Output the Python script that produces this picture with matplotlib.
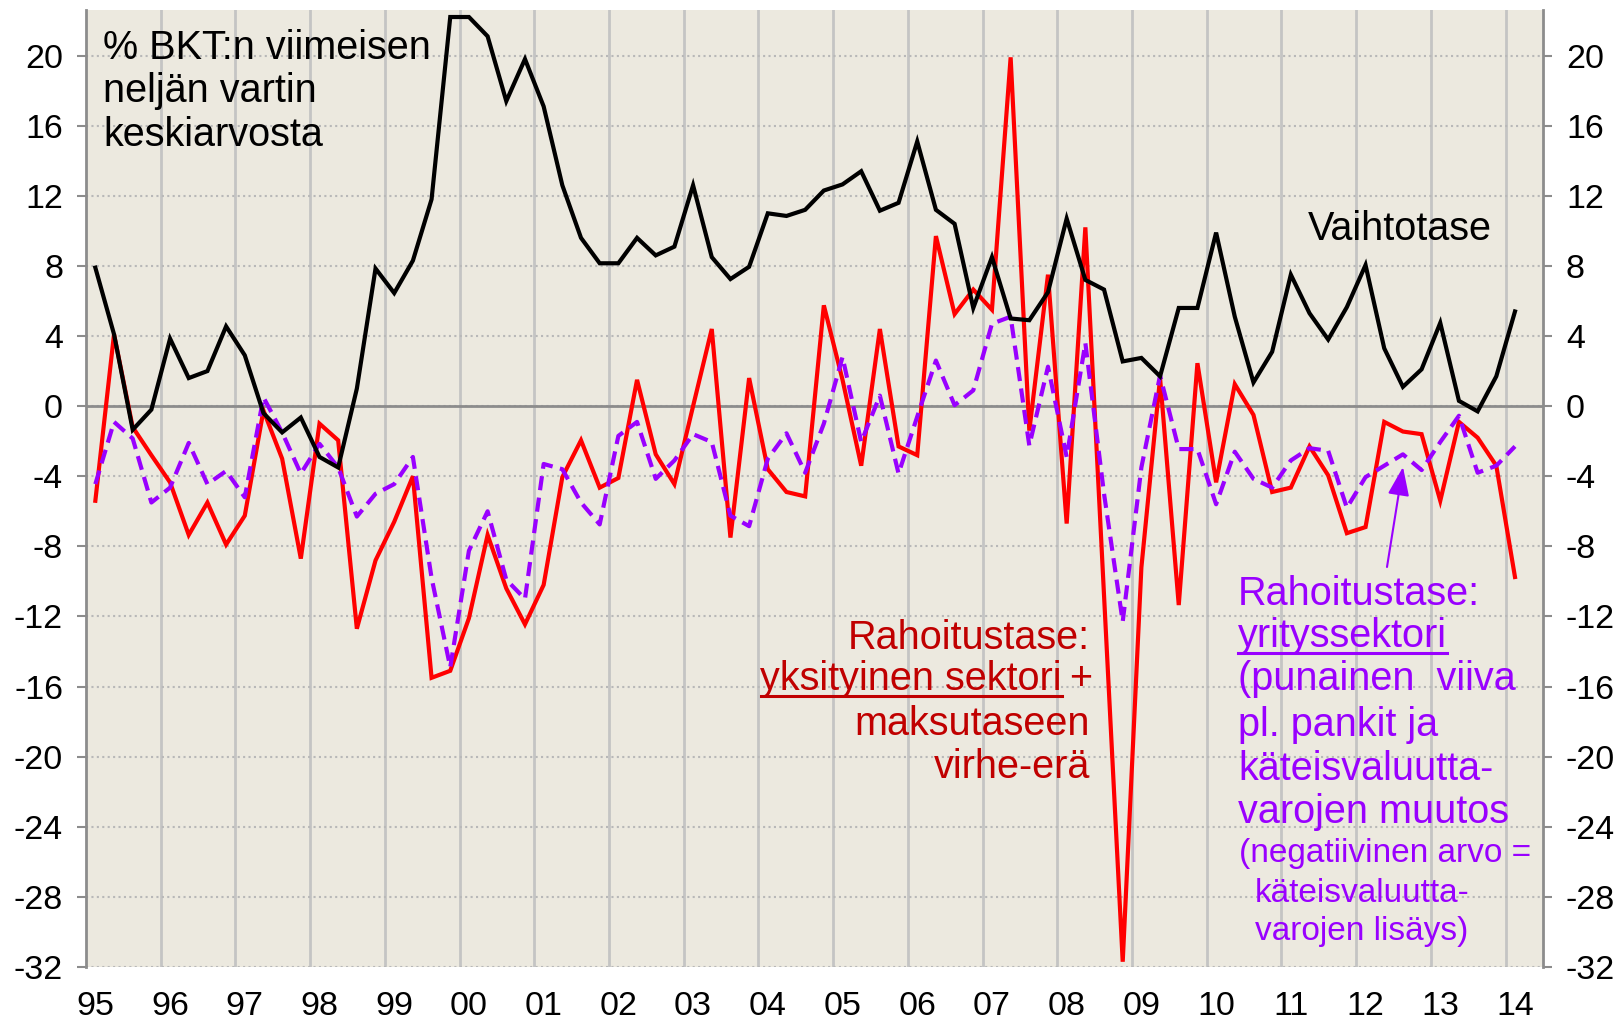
import matplotlib
matplotlib.use('Agg')
import matplotlib.pyplot as plt
from matplotlib.lines import Line2D

plt.rcParams['font.family'] = ['Liberation Sans', 'DejaVu Sans']
plt.rcParams['axes.unicode_minus'] = False

# ── Data: quarterly 1995Q1 ... 2014Q1, % of GDP (axis runs to 2014Q2) ──
year_labels = ['95', '96', '97', '98', '99', '00', '01', '02', '03', '04',
               '05', '06', '07', '08', '09', '10', '11', '12', '13', '14']

vaihtotase = [7.9, 4.1, -1.35, -0.2, 3.85, 1.6, 2.0, 4.55, 2.9, -0.4,
              -1.5, -0.65, -2.9, -3.5, 1.0, 7.85, 6.45, 8.3, 11.8, 22.2,
              22.2, 21.1, 17.4, 19.8, 17.1, 12.6, 9.6, 8.15, 8.15, 9.6,
              8.6, 9.1, 12.6, 8.5, 7.25, 7.95, 11.0, 10.85, 11.2, 12.3,
              12.65, 13.4, 11.15, 11.6, 15.1, 11.2, 10.4, 5.6, 8.5, 5.0,
              4.9, 6.5, 10.7, 7.2, 6.65, 2.55, 2.75, 1.7, 5.6, 5.6,
              9.9, 5.1, 1.35, 3.1, 7.5, 5.3, 3.8, 5.65, 8.05, 3.3,
              1.1, 2.1, 4.75, 0.3, -0.3, 1.7, 5.4]

yksityinen = [-5.4, 4.1, -1.2, -2.8, -4.35, -7.35, -5.5, -7.9, -6.25, -0.25,
              -3.0, -8.7, -1.0, -1.95, -12.7, -8.8, -6.6, -4.0, -15.5, -15.1,
              -12.1, -7.35, -10.4, -12.45, -10.2, -4.05, -1.95, -4.65, -4.1, 1.5,
              -2.75, -4.45, 0.0, 4.4, -7.5, 1.6, -3.6, -4.9, -5.15, 5.75,
              1.5, -3.4, 4.4, -2.3, -2.8, 9.7, 5.25, 6.65, 5.5, 19.9,
              -1.4, 7.5, -6.7, 10.2, -10.8, -31.7, -9.2, 1.6, -11.35, 2.45,
              -4.35, 1.25, -0.5, -4.9, -4.65, -2.3, -3.95, -7.25, -6.9, -0.9,
              -1.45, -1.6, -5.4, -0.9, -1.8, -3.4, -9.75]

yrityssektori = [-4.45, -0.9, -1.85, -5.5, -4.65, -2.1, -4.45, -3.7, -5.2, 0.5,
                 -1.5, -3.85, -2.15, -3.5, -6.3, -5.0, -4.45, -2.9, -9.8, -14.9,
                 -8.25, -6.0, -9.9, -11.0, -3.3, -3.6, -5.5, -6.75, -1.7, -0.9,
                 -4.15, -3.1, -1.6, -2.05, -6.25, -6.85, -3.0, -1.55, -3.8, -1.0,
                 2.8, -2.05, 0.6, -3.85, -0.6, 2.6, 0.05, 0.9, 4.7, 5.1,
                 -2.25, 2.25, -2.9, 3.6, -5.0, -12.3, -3.5, 1.75, -2.45, -2.45,
                 -5.6, -2.6, -4.15, -4.65, -3.1, -2.4, -2.55, -5.8, -4.05, -3.4,
                 -2.75, -3.65, -2.05, -0.55, -3.8, -3.4, -2.3]

n_quarters = 78
y_ticks = list(range(-32, 21, 4))

RED = '#FF0000'
RED_TXT = '#C00000'
PURPLE = '#9900FF'
GRID = '#B8B8B8'
AXIS = '#8C8C8C'

W, H = 1621, 1029


def fx(x):
    return x / W


def fy(y):
    return 1 - y / H


fig = plt.figure(figsize=(W / 100, H / 100), dpi=100, facecolor='white')
ax = fig.add_axes([86 / W, 1 - 967 / H, (1543 - 86) / W, (967 - 10) / H])
ax.set_facecolor('#ECE9DF')

x = list(range(len(vaihtotase)))
ax.plot(x, yksityinen, color=RED, lw=3.0, solid_joinstyle='miter', zorder=3)
ax.plot(x, yrityssektori, color=PURPLE, lw=3.0, dashes=(3.4, 1.8), zorder=4)
ax.plot(x, vaihtotase, color='black', lw=3.0, solid_joinstyle='miter', zorder=5)

ax.set_xlim(-0.5, n_quarters - 0.5)
ax.set_ylim(-32, 22.6)

# ── Axes styling ──────────────────────────────────────────
ax.set_yticks(y_ticks)
ax.set_yticklabels([str(v) for v in y_ticks])
ax.tick_params(axis='y', which='both', left=True, right=True,
               labelleft=True, labelright=True, direction='out',
               length=6.5, width=1.5, color=AXIS, labelsize=24.5, pad=10)

ax.set_xticks(range(0, n_quarters, 4))
ax.set_xticklabels(year_labels)
ax.set_xticks([i * 4 - 0.5 for i in range(1, 20)], minor=True)
ax.tick_params(axis='x', which='both', length=0, labelsize=24.5, pad=17)

ax.yaxis.grid(True, linestyle=(0, (1, 1.6)), color=GRID, lw=1.5)
ax.xaxis.grid(True, which='minor', color='#C4C4C4', lw=2)
ax.xaxis.grid(False, which='major')
ax.set_axisbelow(True)
ax.axhline(0, color=AXIS, lw=2, zorder=2)

for side in ['top', 'bottom']:
    ax.spines[side].set_visible(False)
for side in ['left', 'right']:
    ax.spines[side].set_color(AXIS)
    ax.spines[side].set_linewidth(2)

# ── Annotations ───────────────────────────────────────────
big = 28.5
for txt, yb in [('% BKT:n viimeisen', 59), ('neljän vartin', 102), ('keskiarvosta', 146)]:
    fig.text(fx(103), fy(yb), txt, fontsize=big, color='black', va='baseline')

fig.text(fx(1308), fy(240), 'Vaihtotase', fontsize=big, color='black', va='baseline')

fig.text(fx(1090), fy(649), 'Rahoitustase:', fontsize=big, color=RED_TXT,
         ha='right', va='baseline')
t_yks = fig.text(fx(1062), fy(690), 'yksityinen sektori', fontsize=big,
                 color=RED_TXT, ha='right', va='baseline')
fig.text(fx(1092), fy(690), '+', fontsize=big, color=RED_TXT, ha='right', va='baseline')
fig.text(fx(1090), fy(735), 'maksutaseen', fontsize=big, color=RED_TXT,
         ha='right', va='baseline')
fig.text(fx(1090), fy(778), 'virhe-erä', fontsize=big, color=RED_TXT,
         ha='right', va='baseline')

fig.text(fx(1238), fy(605), 'Rahoitustase:', fontsize=big, color=PURPLE, va='baseline')
t_yri = fig.text(fx(1238), fy(647), 'yrityssektori', fontsize=big, color=PURPLE,
                 va='baseline')
for txt, yb in [('(punainen  viiva', 690), ('pl. pankit ja', 736),
                ('käteisvaluutta-', 780), ('varojen muutos', 823)]:
    fig.text(fx(1238), fy(yb), txt, fontsize=big, color=PURPLE, va='baseline')
for txt, xl, yb in [('(negatiivinen arvo =', 1239, 862),
                    ('käteisvaluutta-', 1255, 902),
                    ('varojen lisäys)', 1255, 940)]:
    fig.text(fx(xl), fy(yb), txt, fontsize=24, color=PURPLE, va='baseline')

# underline the sector names
fig.canvas.draw()
renderer = fig.canvas.get_renderer()
for t, yu, col in [(t_yks, 696, RED_TXT), (t_yri, 653, PURPLE)]:
    bb = t.get_window_extent(renderer)
    fig.add_artist(Line2D([bb.x0 / W, bb.x1 / W], [fy(yu), fy(yu)],
                          transform=fig.transFigure, color=col, lw=2.2))

ax.annotate('', xy=(1403, H - 467), xytext=(1387, H - 567),
            xycoords='figure pixels', textcoords='figure pixels',
            arrowprops=dict(arrowstyle='-|>,head_length=0.8,head_width=0.3',
                            color=PURPLE, lw=1.5, mutation_scale=22,
                            shrinkA=0, shrinkB=0))

fig.savefig('out.png', dpi=100, facecolor='white')
